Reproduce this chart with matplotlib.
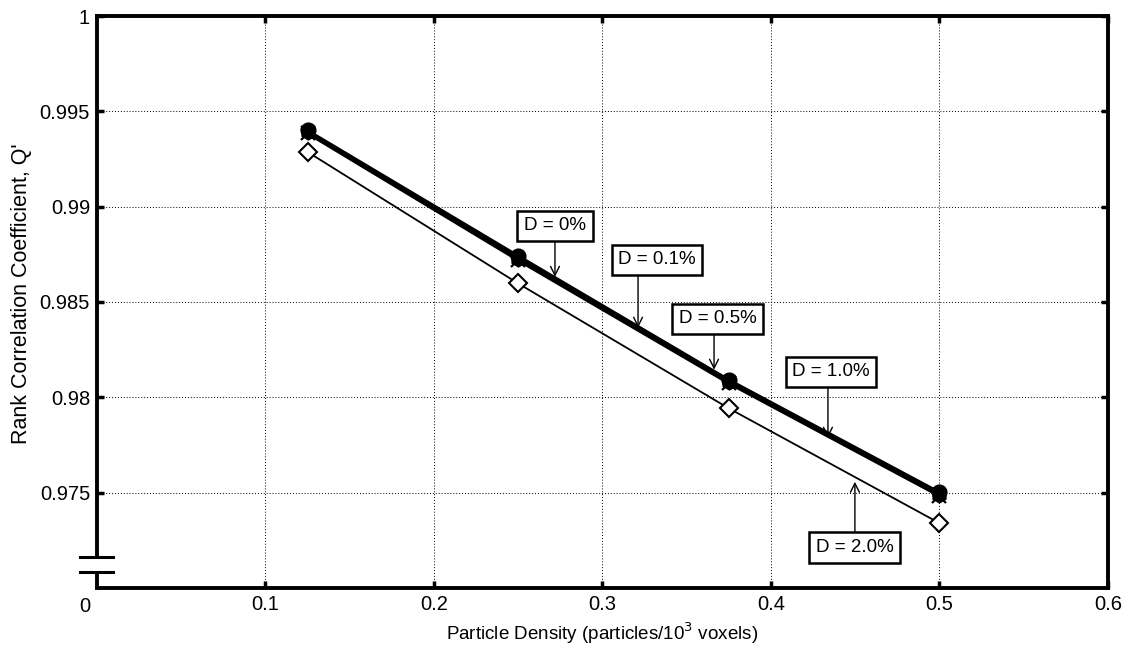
import matplotlib
matplotlib.use("Agg")
import matplotlib.pyplot as plt

plt.rcParams['font.family'] = ['Liberation Sans', 'DejaVu Sans']

# Data
density = [0.125, 0.25, 0.375, 0.5]
q_d0 = [0.99400, 0.98742, 0.98092, 0.97502]
q_d01 = [0.99395, 0.98734, 0.98086, 0.97495]
q_d05 = [0.99390, 0.98726, 0.98080, 0.97489]
q_d10 = [0.99384, 0.98718, 0.98073, 0.97482]
q_d20 = [0.99287, 0.98597, 0.97942, 0.97340]

x_ticks = [0.1, 0.2, 0.3, 0.4, 0.5, 0.6]
x_ticklabels = ['0.1', '0.2', '0.3', '0.4', '0.5', '0.6']
y_ticks = [0.975, 0.98, 0.985, 0.99, 0.995, 1.0]
y_ticklabels = ['0.975', '0.98', '0.985', '0.99', '0.995', '1']

labels = ['D = 0%', 'D = 0.1%', 'D = 0.5%', 'D = 1.0%', 'D = 2.0%']
# annotation layout: (text x, text y, arrow x, arrow start y, arrow tip y)
annot = [
    (0.2718, 0.98899, 0.2718, 0.98820, 0.98632),
    (0.3323, 0.98721, 0.3211, 0.98644, 0.98365),
    (0.3685, 0.98412, 0.3662, 0.98335, 0.98145),
    (0.4356, 0.98134, 0.4338, 0.98057, 0.97788),
    (0.4498, 0.97212, 0.4498, 0.97290, 0.97557),
]

fig = plt.figure(figsize=(11.29, 6.56), dpi=100)
ax = fig.add_axes([0.0859, 0.1037, 0.8955, 0.8719])

series = [q_d0, q_d01, q_d05, q_d10]
markers = ['o', '*', 'h', 'x']
for ys, m in zip(series, markers):
    ax.plot(density, ys, color='black', lw=2.0, marker=m, ms=10,
            mfc='black' if m in ('o', '*', 'h') else 'none', mec='black',
            mew=1.6)
ax.plot(density, q_d20, color='black', lw=1.3, marker='D', ms=9,
        mfc='white', mec='black', mew=1.5)

ax.set_xlim(0, 0.6)
ax.set_ylim(0.97, 1.0)
ax.set_xticks(x_ticks)
ax.set_xticklabels(x_ticklabels)
ax.set_yticks(y_ticks)
ax.set_yticklabels(y_ticklabels)
ax.tick_params(direction='in', length=5, width=2.5, labelsize=14.5,
               top=True, right=True, pad=5)
ax.grid(True, color='black', linestyle=(0, (1, 2)), linewidth=0.7)

for s in ax.spines.values():
    s.set_linewidth(2.8)
ax.spines['left'].set_bounds(0.97165, 1.0)
ax.plot([0, 0], [0.97, 0.97086], color='black', lw=2.8, clip_on=False,
        solid_capstyle='butt')
ax.plot([-0.0168 * 0.6, 0.0158 * 0.6], [0.97165, 0.97165], color='black',
        lw=2.2, clip_on=False)
ax.plot([-0.0168 * 0.6, 0.0158 * 0.6], [0.97086, 0.97086], color='black',
        lw=2.2, clip_on=False)
ax.text(-0.0071, 0.96955, '0', ha='center', va='top', fontsize=14.5)

ax.set_xlabel('Particle Density (particles/10$^3$ voxels)', fontsize=13.5,
              labelpad=5)
ax.set_ylabel("Rank Correlation Coefficient, Q'", fontsize=15.5)
ax.yaxis.set_label_coords(-0.064, 0.515)

for lab, (tx, ty, axx, ay0, ay1) in zip(labels, annot):
    ax.text(tx, ty, lab, ha='center', va='center', fontsize=13.5,
            bbox=dict(boxstyle='square,pad=0.35', fc='white', ec='black', lw=1.8),
            zorder=5)
    ax.annotate('', xy=(axx, ay1), xytext=(axx, ay0),
                arrowprops=dict(arrowstyle='->', color='black', lw=1.0,
                                mutation_scale=16, shrinkA=0, shrinkB=0),
                zorder=4)

fig.savefig('out.png', dpi=100)
